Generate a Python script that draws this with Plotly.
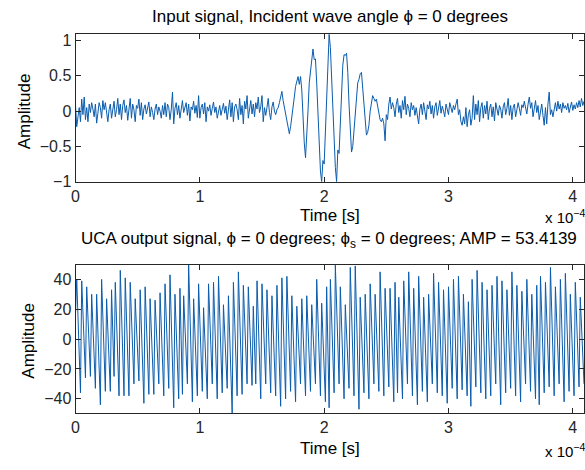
import numpy as np
import plotly.graph_objects as go

# ---------------- data ----------------
dt = 1e-6  # sample spacing [s]

# input signal: noise before burst (t = 0 .. 162 us)
input_pre = [
    0.08, -0.22, -0.08, 0.05, -0.15, 0.17, -0.05, 0.20, -0.12, 0.05,
    -0.15, 0.10, -0.02, 0.12, 0.03, -0.08, 0.10, -0.17, -0.03, 0.12,
    0.05, -0.10, 0.15, 0.02, 0.12, -0.06, -0.15, 0.02, 0.10, -0.10,
    0.05, 0.14, -0.08, 0.02, 0.18, -0.05, 0.10, -0.12, 0.08, 0.16,
    -0.02, 0.08, -0.13, 0.05, 0.18, -0.10, 0.10, 0.02, -0.15, 0.08,
    0.04, 0.17, -0.06, 0.12, -0.12, 0.03, 0.09, -0.04, 0.05, 0.13,
    -0.08, 0.06, -0.02, -0.12, 0.03, 0.10, -0.05, 0.06, 0.00, -0.10,
    0.08, -0.05, 0.12, -0.08, 0.10, 0.05, -0.12, 0.02, 0.27, -0.18,
    0.04, 0.12, -0.05, 0.08, -0.10, 0.02, 0.15, -0.02, 0.05, 0.12,
    -0.06, 0.10, -0.14, 0.06, 0.02, 0.14, -0.03, 0.08, -0.09, 0.22,
    -0.10, 0.05, 0.10, -0.04, 0.12, -0.15, 0.06, 0.00, 0.09, -0.06,
    0.04, 0.13, -0.02, 0.06, -0.10, 0.02, 0.08, -0.06, 0.05, 0.11,
    -0.03, 0.07, -0.12, 0.03, 0.16, -0.08, 0.12, -0.15, 0.06, 0.10,
    0.02, -0.12, 0.18, -0.05, 0.08, -0.18, 0.14, 0.03, 0.22, -0.10,
    0.05, 0.15, -0.04, 0.10, -0.08, 0.12, 0.03, 0.20, -0.02, 0.06,
    0.22, -0.15, 0.05, -0.06, 0.05, 0.18, -0.02, -0.12, 0.06, 0.13,
    0.00, -0.05, 0.02,
]

# input signal: burst (t = 163 .. 255 us)
input_burst = [
    0.05, 0.12, 0.20, 0.28, 0.15, 0.05, -0.05, -0.14, -0.25, -0.32,
    -0.22, -0.10, 0.05, 0.20, 0.35, 0.45, 0.49, 0.38, 0.49, 0.30,
    -0.10, -0.45, -0.66, -0.40, 0.00, 0.40, 0.56, 0.75, 0.88, 0.73,
    0.74, 0.40, -0.10, -0.55, -0.85, -1.00, -0.70, -0.75, -0.30, 0.30,
    0.80, 1.09, 0.90, 0.50, 0.00, -0.45, -0.80, -1.00, -0.55, -0.60,
    -0.20, 0.25, 0.65, 0.80, 0.79, 0.82, 0.55, 0.10, -0.30, -0.58,
    -0.50, -0.30, -0.05, 0.20, 0.40, 0.45, 0.53, 0.55, 0.35, 0.15,
    -0.10, -0.34, -0.30, -0.20, 0.00, 0.10, 0.22, 0.18, 0.14, 0.17,
    0.05, -0.05, -0.12, -0.15, -0.10, -0.18, -0.42, -0.05, -0.12, 0.10,
    0.20, 0.03, 0.12,
]

# input signal: noise after burst (t = 256 .. 409 us)
input_post = [
    0.05, -0.08, 0.10, 0.18, -0.02, 0.08, -0.10, 0.15, 0.02, 0.21,
    -0.05, 0.10, 0.04, -0.08, 0.12, 0.02, 0.08, -0.06, 0.05, -0.10,
    -0.18, 0.03, 0.10, -0.05, 0.12, 0.00, -0.12, 0.09, 0.03, 0.14,
    -0.04, 0.08, -0.10, 0.06, 0.12, -0.06, 0.04, 0.15, -0.03, 0.07,
    0.00, -0.08, 0.10, 0.03, -0.05, 0.12, 0.05, -0.02, 0.08, 0.02,
    0.10, 0.17, -0.05, 0.02, -0.15, -0.20, -0.08, -0.18, 0.05, -0.22,
    -0.05, 0.02, -0.20, -0.10, 0.22, -0.12, 0.10, -0.05, 0.15, -0.15,
    0.05, 0.12, -0.10, 0.08, -0.04, 0.14, -0.12, 0.04, 0.10, -0.08,
    0.06, -0.14, 0.12, 0.02, -0.06, 0.08, 0.03, -0.10, 0.06, 0.12,
    -0.05, 0.04, 0.18, -0.06, 0.08, -0.12, 0.05, 0.10, -0.08, 0.02,
    0.12, 0.04, -0.06, 0.09, 0.05, 0.14, 0.02, -0.04, 0.10, 0.20,
    0.04, 0.12, -0.08, 0.06, 0.15, -0.02, 0.08, -0.12, 0.02, 0.10,
    -0.06, -0.20, 0.05, -0.18, 0.10, 0.27, -0.05, 0.02, -0.08, 0.05,
    0.12, 0.00, 0.14, 0.03, 0.10, -0.02, 0.12, 0.04, 0.08, 0.02,
    0.11, -0.02, 0.06, 0.13, 0.01, 0.09, 0.03, 0.12, 0.05, 0.15,
    0.06, 0.18, 0.08, 0.14,
]

# UCA output signal (410 samples)
output_signal = [
    17,
    40, 15, -11, -36,   39, 17, -4, -26,   35, 15, -5, -25,   30, 9, -12, -33,
    30, 5, -19, -44,    40, 15, -10, -35,  27, 6, -14, -35,   33, 4, -25,
    38, 13, -13, -38,   46, 18, -10, -38,  41, 15, -12, -38,  38, 15, -7, -30,
    27, 9, -10, -28,    33, 8, -18, -43,   35, 11, -13, -37,  27, 6, -16, -37,
    26, 7, -11, -30,    31, 8, -15, -38,   37, 14, -10, -33,  43, 13, -16, -46,
    30, 7, -17, -40,    34, -2, -37,       29, 9, -10, -30,   49.8, 19, -11, -42,
    27, 5, -16, -38,    37, 13, -11, -35,  21, 1, -20, -40,   37, 15, -8, -30,
    38, 12, -14, -40,   42, 16, -10, -36,  23, 4, -14, -33,   29, 3, -23, -49.6,
    38, 13, -13, -38,   45, 18, -10, -37,  36, 14, -8, -30,   35, 13, -9, -31,
    22, -4, -30,        39, 13, -14, -40,  37, 15, -8, -30,   33, 10, -13, -36,
    29, 7, -16, -38,    36, 9, -18, -45,   41, 14, -13, -40,  42, 16, -9, -35,
    29, 5, -18, -42,    22, 5, -13, -30,   27, 5, -16, -38,
    29, 8, -14, -35,    23, 5, -12, -30,   40, 14, -12, -38,  24, 2, -20, -42,
    35, -6, -46,        40, 15, -11, -36,  49.5, 23, -4, -30, 35, 10, -15, -40,
    23, 4, -14, -33,    48, 19, -9, -38,   49, 17, -15, -47,  28, 7, -15, -36,
    30, 7, -17, -40,    37, 15, -8, -30,   30, 8, -13, -35,   45, 17, -10, -38,
    34, 12, -10, -32,   34, 9, -17, -42,   38, 1, -36,        28, 5, -17, -40,
    39, 16, -7, -30,    45, 17, -10, -38,  34, 8, -18, -44,   42, 16, -9, -35,
    28, 5, -19, -42,    30, 10, -10, -30,  44, 17, -9, -36,   38, 13, -13, -38,
    33, 8, -18, -43,    35, 12, -10, -33,  40, 13, -13, -40,  42, 17, -9, -34,
    30, 7, -15, -38,    25, -10, -45,      40, 16, -8, -32,   46, 19, -9, -36,
    38, 12, -14, -40,   33, 9, -14, -38,   36, 14, -8, -30,   42, 13, -15, -44,
    39, 14, -11, -36,   33, 11, -11, -33,  45, 17, -10, -38,  36, 10, -16, -42,
    32, 11, -9, -30,    40, 15, -10, -35,  30, 7, -17, -40,   36, -4, -44,
    42, 16, -10, -36,   38, 15, -9, -32,   48, 19, -9, -38,   35, 13, -8, -30,
    40, 13, -15, -42,   44, 18, -9, -35,   30, 7, -15, -38,   38, 15, -9, -32,
    28, 9, -11, -30,
]

x_tick_vals = [0, 1e-4, 2e-4, 3e-4, 4e-4]
x_tick_text = ["0", "1", "2", "3", "4"]
top_y_ticks = [-1, -0.5, 0, 0.5, 1]
bottom_y_ticks = [-40, -20, 0, 20, 40]

title_top = "Input signal, Incident wave angle \u03d5 = 0 degrees"
title_bottom = ("UCA output signal, \u03d5 = 0 degrees; \u03d5<sub>s</sub> = 0 degrees; "
                "AMP = 53.4139")

# ---------------- figure ----------------
input_signal = np.array(input_pre + input_burst + input_post, dtype=float)
out_sig = np.array(output_signal, dtype=float)
t_in = np.arange(len(input_signal)) * dt
t_out = np.arange(len(out_sig)) * dt

W, H = 585, 470
FONT = "Liberation Sans, Arial, Helvetica, sans-serif"
INK = "#262626"
LINE = "#0b5cad"

fig = go.Figure()
fig.add_trace(go.Scatter(x=t_in, y=input_signal, mode="lines",
                         line=dict(color=LINE, width=1), xaxis="x", yaxis="y",
                         showlegend=False, hoverinfo="skip"))
fig.add_trace(go.Scatter(x=t_out, y=out_sig, mode="lines",
                         line=dict(color=LINE, width=1), xaxis="x2", yaxis="y2",
                         showlegend=False, hoverinfo="skip"))

x_dom = [72 / W, 584 / W]
top_dom = [1 - 184 / H, 1 - 33 / H]
bot_dom = [1 - 421 / H, 1 - 269 / H]

axis_common = dict(showline=True, linecolor=INK, linewidth=1, mirror="ticks",
                   ticks="inside", ticklen=5, tickcolor=INK, tickwidth=1,
                   showgrid=False, zeroline=False,
                   tickfont=dict(family=FONT, size=16, color=INK))

fig.update_layout(
    width=W, height=H, margin=dict(l=0, r=0, t=0, b=0),
    paper_bgcolor="white", plot_bgcolor="white",
    xaxis=dict(domain=x_dom, anchor="y", range=[0, t_in[-1]], tickvals=x_tick_vals,
               ticktext=x_tick_text, **axis_common),
    yaxis=dict(domain=top_dom, anchor="x",
               range=[float(input_signal.min()), float(input_signal.max())],
               tickvals=top_y_ticks, **axis_common),
    xaxis2=dict(domain=x_dom, anchor="y2", range=[0, t_out[-1]], tickvals=x_tick_vals,
                ticktext=x_tick_text, **axis_common),
    yaxis2=dict(domain=bot_dom, anchor="x2",
                range=[float(out_sig.min()), float(out_sig.max())],
                tickvals=bottom_y_ticks, **axis_common),
)

def ann(text, x, y, size=17, xanchor="center", yanchor="middle", angle=0):
    fig.add_annotation(text=text, x=x / W, y=1 - y / H, xref="paper", yref="paper",
                       showarrow=False, xanchor=xanchor, yanchor=yanchor,
                       textangle=angle, font=dict(family=FONT, size=size, color="black"))

ann(title_top, 328, 15)
ann(title_bottom, 327, 244)
ann("Amplitude", 21, 112, angle=-90)
ann("Amplitude", 25, 347, angle=-90)
ann("Time [s]", 328, 219)
ann("Time [s]", 328, 457)
ann("x 10<sup>\u22124</sup>", 543, 220, size=15, xanchor="left")
ann("x 10<sup>\u22124</sup>", 543, 459, size=15, xanchor="left")

fig.write_html("out.html")
